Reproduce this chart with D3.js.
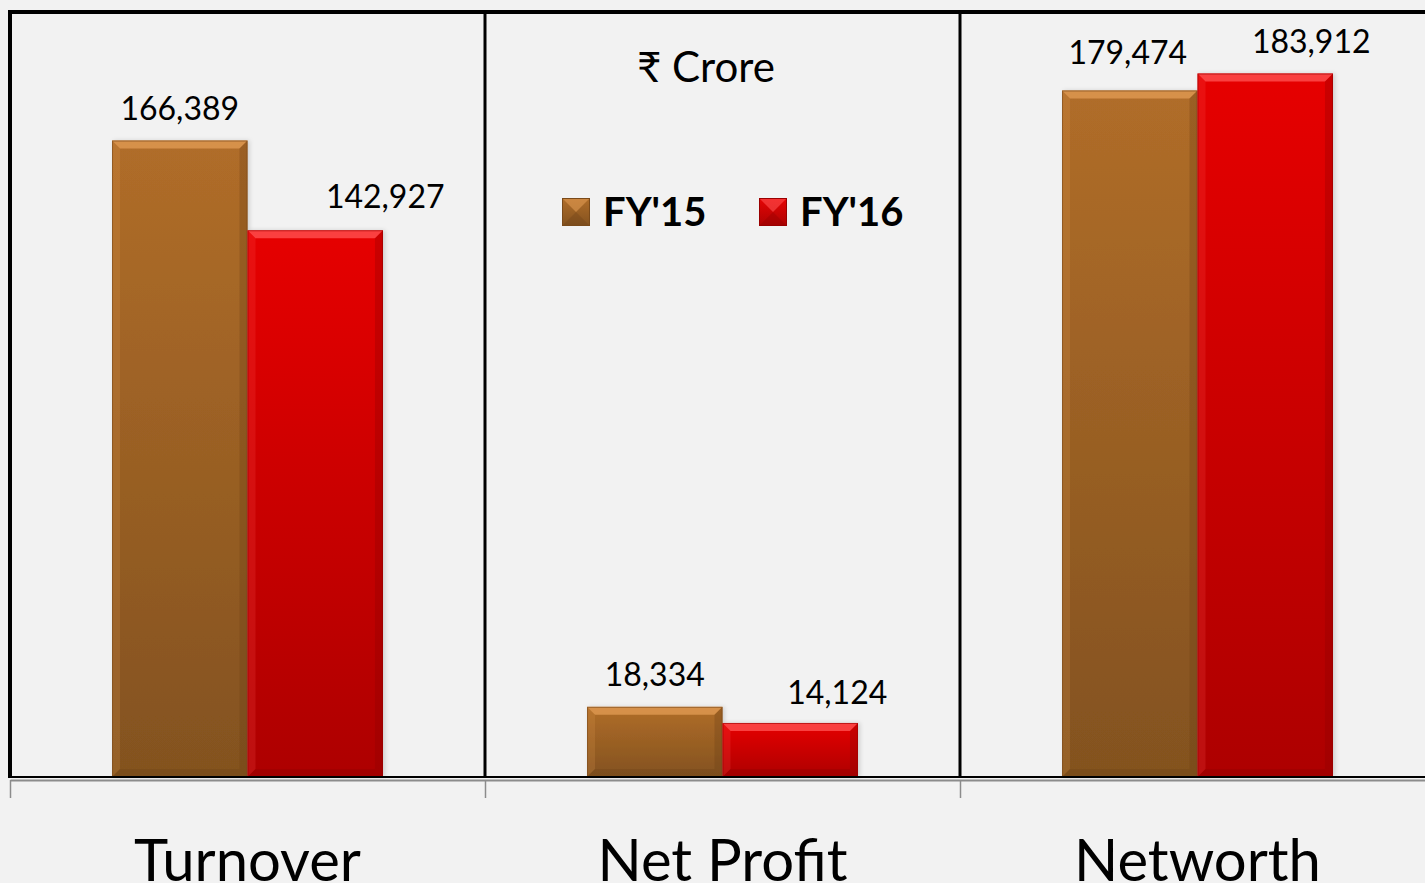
<!DOCTYPE html>
<html>
<head>
<meta charset="utf-8">
<script src="https://cdn.jsdelivr.net/npm/d3@7"></script>
<style>
  html, body { margin: 0; padding: 0; background: #f2f2f2; overflow: hidden; }
  svg { display: block; }
</style>
</head>
<body>
<svg id="chart" width="1425" height="883"></svg>
<script>
// ---- data ----
const categories = ["Turnover", "Net Profit", "Networth"];
const seriesNames = ["FY'15", "FY'16"];
const fy15 = [166389, 18334, 179474];
const fy16 = [142927, 14124, 183912];
const unitLabel = "₹ Crore";
// label nudges (layout), [category][series]
const labelDx = [[0, 70], [0, 47], [-2, 46]];
const labelGap = [[21, 22], [21, 19], [27, 21]];

const W = 1425, H = 883;
const plot = { left: 10, right: 1435, top: 12, bottom: 777 };
const svg = d3.select("#chart");
const FONT = "Lato, 'Open Sans', 'Noto Sans', sans-serif";

svg.append("rect").attr("width", W).attr("height", H).attr("fill", "#f2f2f2");

const x0 = d3.scaleBand().domain(categories).range([plot.left, plot.right]).padding(0);
const x1 = d3.scaleBand().domain(seriesNames).range([0, x0.bandwidth()]).paddingInner(0).paddingOuter(0.753);
const y = d3.scaleLinear().domain([0, 200000]).range([plot.bottom, plot.top]);

const palette = {
  "FY'15": { top: "#b06d29", bottom: "#83521f", light: "#e09a52", dark: "#6a4016", stroke: "#7a4a1a" },
  "FY'16": { top: "#e60505", bottom: "#ad0303", light: "#ff5050", dark: "#8a0000", stroke: "#9a0000" }
};

const defs = svg.append("defs");
seriesNames.forEach((s, i) => {
  const g = defs.append("linearGradient").attr("id", "grad" + i)
    .attr("x1", 0).attr("y1", 0).attr("x2", 0).attr("y2", 1);
  g.append("stop").attr("offset", "0%").attr("stop-color", palette[s].top);
  g.append("stop").attr("offset", "100%").attr("stop-color", palette[s].bottom);
});
const shadow = defs.append("filter").attr("id", "shadow").attr("x", "-10%").attr("y", "-10%").attr("width", "130%").attr("height", "120%");
shadow.append("feDropShadow").attr("dx", 2).attr("dy", 0).attr("stdDeviation", 2).attr("flood-color", "#000").attr("flood-opacity", 0.15);

// plot frame: top border and vertical dividers
svg.append("line").attr("x1", plot.left - 2).attr("x2", W).attr("y1", plot.top).attr("y2", plot.top)
  .attr("stroke", "#000").attr("stroke-width", 4);
svg.append("line").attr("x1", plot.left).attr("x2", plot.left).attr("y1", plot.top).attr("y2", plot.bottom)
  .attr("stroke", "#000").attr("stroke-width", 4);
categories.slice(1).forEach(c => {
  svg.append("line").attr("x1", x0(c)).attr("x2", x0(c)).attr("y1", plot.top).attr("y2", plot.bottom)
    .attr("stroke", "#000").attr("stroke-width", 3);
});

// bars
const rows = categories.map((c, ci) => seriesNames.map((s, si) => ({
  cat: c, ci, s, si, v: si === 0 ? fy15[ci] : fy16[ci]
}))).flat();

const bars = svg.append("g");
rows.forEach(d => {
  const bx = x0(d.cat) + x1(d.s), bw = x1.bandwidth();
  const by = y(d.v), bh = y(0) - y(d.v);
  const p = palette[d.s];
  const g = bars.append("g");
  g.append("rect").attr("x", bx).attr("y", by).attr("width", bw).attr("height", bh)
    .attr("fill", `url(#grad${d.si})`).attr("filter", "url(#shadow)");
  const b = Math.min(8, bh / 2);
  // top bevel
  g.append("path").attr("d", `M${bx},${by} L${bx + bw},${by} L${bx + bw - b},${by + b} L${bx + b},${by + b} Z`)
    .attr("fill", p.light).attr("opacity", 0.8);
  // left bevel
  g.append("path").attr("d", `M${bx},${by} L${bx + b},${by + b} L${bx + b},${by + bh - b} L${bx},${by + bh} Z`)
    .attr("fill", p.light).attr("opacity", 0.2);
  // right bevel
  g.append("path").attr("d", `M${bx + bw},${by} L${bx + bw},${by + bh} L${bx + bw - b},${by + bh - b} L${bx + bw - b},${by + b} Z`)
    .attr("fill", p.dark).attr("opacity", 0.3);
  // bottom bevel
  g.append("path").attr("d", `M${bx},${by + bh} L${bx + bw},${by + bh} L${bx + bw - b},${by + bh - b} L${bx + b},${by + bh - b} Z`)
    .attr("fill", p.dark).attr("opacity", 0.3);
  g.append("rect").attr("x", bx + 0.5).attr("y", by + 0.5).attr("width", bw - 1).attr("height", bh - 1)
    .attr("fill", "none").attr("stroke", p.stroke).attr("stroke-width", 1).attr("opacity", 0.6);

  // value label
  svg.append("text")
    .attr("x", bx + bw / 2 + labelDx[d.ci][d.si])
    .attr("y", by - labelGap[d.ci][d.si])
    .attr("text-anchor", "middle")
    .attr("font-family", FONT).attr("font-size", 32).attr("fill", "#000")
    .text(d3.format(",")(d.v));
});

// baseline axis
svg.append("line").attr("x1", plot.left - 2).attr("x2", W).attr("y1", 777).attr("y2", 777)
  .attr("stroke", "#000").attr("stroke-width", 2);
const xAxis = d3.axisBottom(x0).tickSize(0).tickFormat("");
const axG = svg.append("g").attr("transform", "translate(0,780)").call(xAxis);
axG.select(".domain").attr("stroke", "#8c8c8c").attr("stroke-width", 2);
categories.forEach(c => {
  svg.append("line").attr("x1", x0(c) + 0.5).attr("x2", x0(c) + 0.5).attr("y1", 780).attr("y2", 798)
    .attr("stroke", "#8c8c8c").attr("stroke-width", 1.5);
});

// category labels (partly cropped at the bottom edge, as in the reference)
categories.forEach(c => {
  svg.append("text").attr("x", x0(c) + x0.bandwidth() / 2).attr("y", 881)
    .attr("text-anchor", "middle").attr("font-family", FONT).attr("font-size", 58).attr("fill", "#000")
    .text(c);
});

// unit label
svg.append("text").attr("x", 706).attr("y", 82).attr("text-anchor", "middle")
  .attr("font-family", FONT).attr("font-size", 42).attr("fill", "#000").text(unitLabel);

// legend
const legX = [562, 759];
seriesNames.forEach((s, i) => {
  const p = palette[s];
  const lx = legX[i], ly = 198, ls = 28;
  const g = svg.append("g");
  g.append("rect").attr("x", lx).attr("y", ly).attr("width", ls).attr("height", ls).attr("fill", `url(#grad${i})`);
  g.append("path").attr("d", `M${lx},${ly} L${lx + ls},${ly} L${lx + ls / 2},${ly + ls / 2} Z`).attr("fill", p.light).attr("opacity", 0.6);
  g.append("path").attr("d", `M${lx},${ly + ls} L${lx + ls},${ly + ls} L${lx + ls / 2},${ly + ls / 2} Z`).attr("fill", p.dark).attr("opacity", 0.3);
  g.append("rect").attr("x", lx + 0.5).attr("y", ly + 0.5).attr("width", ls - 1).attr("height", ls - 1)
    .attr("fill", "none").attr("stroke", p.stroke).attr("stroke-width", 1);
  svg.append("text").attr("x", lx + 41).attr("y", 226)
    .attr("font-family", FONT).attr("font-weight", "bold").attr("font-size", 40).attr("fill", "#000").text(s);
});
</script>
</body>
</html>
